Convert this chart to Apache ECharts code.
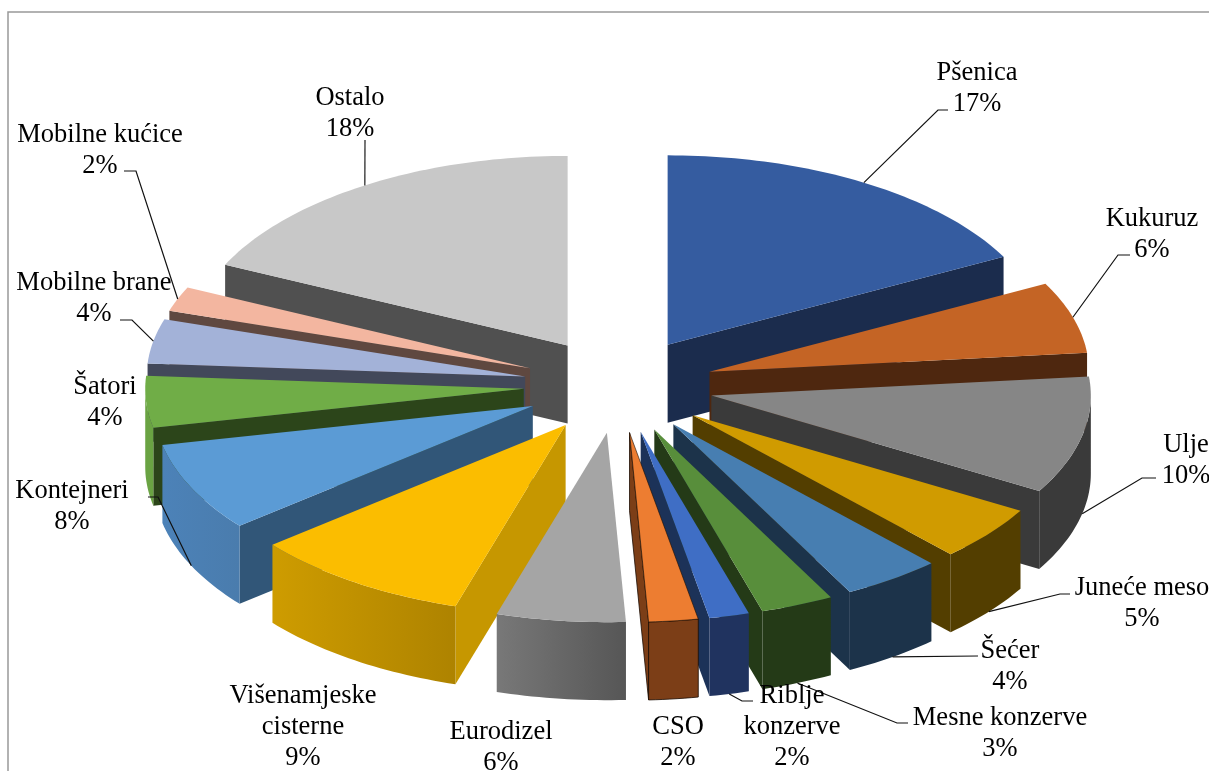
<!DOCTYPE html>
<html>
<head>
<meta charset="utf-8">
<style>html,body{margin:0;padding:0;background:#fff}#c{width:1209px;height:771px}</style>
<script src="https://cdn.jsdelivr.net/npm/echarts@6/dist/echarts.min.js"></script>
</head>
<body>
<div id="c"></div>
<script>
// ---- data ----
const categories = ['Pšenica','Kukuruz','Ulje','Juneće meso','Šećer','Mesne konzerve','Riblje konzerve','CSO','Eurodizel','Višenamjeske cisterne','Kontejneri','Šatori','Mobilne brane','Mobilne kućice','Ostalo'];
// shares; the labels show them rounded
const values = [17.3,6.1,10,4.7,4.2,3.1,1.7,2.1,5.5,9.4,7.6,4.4,3.8,2.1,18];
const labelTexts = ['Pšenica','Kukuruz','Ulje','Juneće meso','Šećer','Mesne konzerve','Riblje\nkonzerve','CSO','Eurodizel','Višenamjeske\ncisterne','Kontejneri','Šatori','Mobilne brane','Mobilne kućice','Ostalo'];
// ---- styles ----
const topColors  = ['#355CA0','#C46425','#868686','#D09B00','#477EB1','#588E3B','#3F6EC5','#ED7D31','#A5A5A5','#FBBD00','#5B9BD5','#70AD47','#A3B2D8','#F3B6A0','#C8C8C8'];
const faceColors = ['#1B2C4D','#4E270F','#3A3A3A','#533E00','#1C334A','#243A17','#1C3258','#7C3E17','#5A5A5A','#C69700','#315678','#2C451A','#42485A','#5F4840','#505050'];
const wallLeft   = ['#1B2C4D','#4E270F','#3A3A3A','#533E00','#1C334A','#243A17','#20335F','#7C3E17','#787878','#CE9C00','#4C82B8','#6AA343','#42485A','#5F4840','#505050'];
const wallRight  = ['#1B2C4D','#4E270F','#3A3A3A','#533E00','#1C334A','#243A17','#20335F','#7C3E17','#565656','#AE8300','#4A7CAD','#6AA343','#42485A','#5F4840','#505050'];
// ---- layout ----
const G = {cx:618.5, cy:385.5, explode:95, explodeY:0.5, rxRight:379.5, rxLeft:378.5, ry:189.5, depth:78};
const labelCenters = [[977,89],[1152,235],[1186,461],[1142,604],[1010,667],[1000,734],[792,727],[678,743],[501,748],[303,727],[72,507],[105,403],[94,299],[100,151],[350,114]];
const leaderBend = [[938,110,948,110],[1118,255,1130,255],[1142,478,1156,478],[1060,594,1070,594],[978,656,978,656],[897,723,908,723],[742,701,753,701],null,null,null,[158,497,148,497],null,[132,320,120,320],[136,171,124,171],[365,140,365,140]];

const total = values.reduce((a,b)=>a+b,0);
const rad = f => f*Math.PI*2;
let acc = 0;
const slices = values.map((v,i)=>{
  const a0 = rad(acc/total); acc += v; const a1 = rad(acc/total); const m=(a0+a1)/2;
  return {i,a0,a1,m,ax:G.cx+G.explode*Math.sin(m),ay:G.cy-G.explode*G.explodeY*Math.cos(m)};
});
const rim = (s,a,d)=>{const sn=Math.sin(a);return [s.ax+(sn<0?G.rxLeft:G.rxRight)*sn, s.ay-G.ry*Math.cos(a)+(d||0)];};
const arc = (s,a,b,d)=>{const n=Math.max(2,Math.ceil(Math.abs(b-a)/0.02)),p=[];for(let k=0;k<=n;k++)p.push(rim(s,a+(b-a)*k/n,d));return p;};
const drawOrder = slices.slice().sort((p,q)=>Math.cos(q.m)-Math.cos(p.m)).map(s=>s.i);

function renderSlice(params, api){
  const s = slices[api.value(0)], i=s.i, kids=[];
  const line = i===7 ? {stroke:'#1a0d04',lineWidth:0.8} : {};
  const face = a => {
    const e=rim(s,a), b=rim(s,a,G.depth);
    kids.push({type:'polygon',shape:{points:[[s.ax,s.ay],e,b,[s.ax,s.ay+G.depth]]},style:Object.assign({fill:faceColors[i]},line)});
  };
  if(Math.sin(s.a0)<-0.001) face(s.a0);
  if(Math.sin(s.a1)>0.001) face(s.a1);
  const w0=Math.max(s.a0,Math.PI/2), w1=Math.min(s.a1,Math.PI*1.5);
  if(w1>w0){
    const pts=arc(s,w0,w1,0).concat(arc(s,w1,w0,G.depth));
    kids.push({type:'polygon',shape:{points:pts},style:Object.assign({fill:new echarts.graphic.LinearGradient(0,0,1,0,[{offset:0,color:wallLeft[i]},{offset:1,color:wallRight[i]}])},line)});
  }
  kids.push({type:'polygon',shape:{points:[[s.ax,s.ay]].concat(arc(s,s.a0,s.a1,0))},style:Object.assign({fill:topColors[i]},i===7?{stroke:'#1a0d04',lineWidth:0.6}:{})});
  return {type:'group',children:kids};
}
function renderNote(params, api){
  const i=api.value(0), s=slices[i], kids=[], b=leaderBend[i];
  if(b){
    const front=Math.cos(s.m)<0;
    kids.push({type:'polyline',shape:{points:[rim(s,s.m,front?G.depth:0),[b[0],b[1]],[b[2],b[3]]]},style:{fill:null,stroke:i===14?'#555':'#111',lineWidth:i===14?1.6:1.2}});
  }
  kids.push({type:'text',x:labelCenters[i][0],y:labelCenters[i][1],style:{text:labelTexts[i]+'\n'+Math.round(values[i])+'%',align:'center',verticalAlign:'middle',font:'26.5px "Liberation Serif"',lineHeight:31,fill:'#000'}});
  return {type:'group',children:kids};
}
const chart = echarts.init(document.getElementById('c'),null,{renderer:'canvas'});
chart.setOption({
  animation:false,
  backgroundColor:'#fff',
  graphic:[{type:'polyline',silent:true,shape:{points:[[8,771],[8,12],[1209,12]]},style:{fill:null,stroke:'#999',lineWidth:1.5}}],
  series:[
    {type:'custom',coordinateSystem:'none',renderItem:renderSlice,silent:true,data:drawOrder.map(i=>[i,values[i],categories[i]])},
    {type:'custom',coordinateSystem:'none',renderItem:renderNote,silent:true,z:5,data:values.map((v,i)=>[i,v,categories[i]])}
  ]
});
</script>
</body>
</html>
